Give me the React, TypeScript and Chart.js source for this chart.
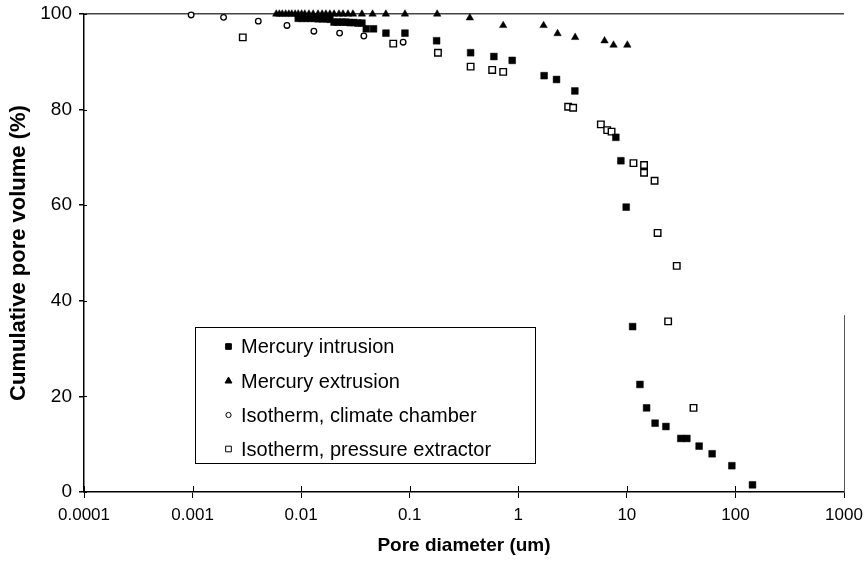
import React, { useEffect, useRef } from 'react';
import { Chart, registerables } from 'chart.js';

Chart.register(...registerables);

// ---------- data ----------
const xTickValues = [0.0001, 0.001, 0.01, 0.1, 1, 10, 100, 1000];
const xTickLabels = ['0.0001', '0.001', '0.01', '0.1', '1', '10', '100', '1000'];
const yTickValues = [0, 20, 40, 60, 80, 100];

const seriesNames = [
  'Mercury intrusion',
  'Mercury extrusion',
  'Isotherm, climate chamber',
  'Isotherm, pressure extractor',
];

const intrusionX = [
  0.0094, 0.0102, 0.0111, 0.0121, 0.0131, 0.0143, 0.0156, 0.0169, 0.0184,
  0.0201, 0.0218, 0.0238, 0.0259, 0.0281, 0.0306, 0.0333, 0.0363,
  0.0398, 0.0464, 0.0604, 0.0904, 0.177, 0.364, 0.596, 0.879, 1.73, 2.25, 3.32,
  7.92, 8.81, 9.86, 11.3, 13.2, 15.2, 18.2, 22.9, 31.4, 35.7, 46.3, 61.0, 92.7, 143.6,
];
const intrusionY = [
  99.1, 99.1, 99.1, 99.1, 99.1, 99.0, 99.0, 99.0, 98.9,
  98.3, 98.3, 98.3, 98.3, 98.2, 98.2, 98.1, 98.1,
  96.9, 96.9, 96.0, 96.0, 94.4, 91.9, 91.1, 90.3, 87.1, 86.3, 83.9,
  74.2, 69.3, 59.6, 34.6, 22.5, 17.6, 14.4, 13.7, 11.2, 11.2, 9.6, 8.0, 5.5, 1.5,
];

const extrusionX = [
  0.0059, 0.0063, 0.0067, 0.0072, 0.0077, 0.0082, 0.0088, 0.0094, 0.0101,
  0.0108, 0.0118, 0.0129, 0.0143, 0.0156, 0.0169, 0.0184, 0.0201, 0.0223, 0.0243,
  0.027, 0.030, 0.0363, 0.0455, 0.0603, 0.0904, 0.179, 0.358, 0.726, 1.71, 2.30,
  3.34, 6.23, 7.54, 10.1,
];
const extrusionY = [
  100, 100, 100, 100, 100, 100, 100, 100, 100,
  100, 100, 100, 100, 100, 100, 100, 100, 100, 100,
  100, 100, 100, 100, 100, 100, 100, 99.2, 97.6, 97.6, 95.9,
  95.1, 94.4, 93.5, 93.5,
];

const chamberX = [0.00097, 0.00193, 0.00403, 0.0074, 0.0131, 0.0226, 0.0378, 0.087];
const chamberY = [99.8, 99.3, 98.5, 97.6, 96.4, 96.0, 95.4, 94.1];

const extractorX = [
  0.0029, 0.0705, 0.182, 0.364, 0.575, 0.726, 2.88, 3.2, 5.76, 6.59, 7.23,
  11.5, 14.4, 14.4, 18.0, 19.2, 28.8, 24.0, 41.1,
];
const extractorY = [
  95.1, 93.8, 91.9, 89.0, 88.3, 87.9, 80.6, 80.4, 76.9, 75.7, 75.4,
  68.8, 68.4, 66.8, 65.1, 54.2, 47.3, 35.7, 17.6,
];

const rightFrameFrom = 37; // value where the partial right frame line starts

const zip = (xs: number[], ys: number[]) => xs.map((x, i) => ({ x, y: ys[i] }));

const FONT = "'Liberation Sans', Arial, Helvetica, sans-serif";

function drawMarker(
  ctx: CanvasRenderingContext2D,
  style: string,
  fill: string,
  stroke: string,
  lw: number,
  x: number,
  y: number,
  r: number,
) {
  ctx.beginPath();
  if (style === 'rect') {
    const s = Math.SQRT1_2 * r;
    ctx.rect(x - s, y - s, 2 * s, 2 * s);
  } else if (style === 'triangle') {
    ctx.moveTo(x, y - r);
    ctx.lineTo(x + r * 0.866, y + r * 0.5);
    ctx.lineTo(x - r * 0.866, y + r * 0.5);
    ctx.closePath();
  } else {
    ctx.arc(x, y, r, 0, Math.PI * 2);
  }
  ctx.fillStyle = fill;
  ctx.fill();
  ctx.lineWidth = lw;
  ctx.strokeStyle = stroke;
  ctx.stroke();
}

const framePlugin = {
  id: 'frameAndLegend',
  afterDraw(chart: any) {
    const ctx: CanvasRenderingContext2D = chart.ctx;
    const { left, right, bottom } = chart.chartArea;
    const xs = chart.scales.x;
    const ys = chart.scales.y;
    ctx.save();
    // inner halves of the crossing tick marks
    ctx.strokeStyle = '#000';
    ctx.lineWidth = 1;
    yTickValues.forEach((v) => {
      const py = Math.round(ys.getPixelForValue(v)) + 0.5;
      ctx.beginPath();
      ctx.moveTo(left, py);
      ctx.lineTo(left + 3, py);
      ctx.stroke();
    });
    xTickValues.forEach((v) => {
      const px = Math.round(xs.getPixelForValue(v)) + 0.5;
      ctx.beginPath();
      ctx.moveTo(px, bottom);
      ctx.lineTo(px, bottom - 6);
      ctx.stroke();
    });
    // partial right frame line
    ctx.strokeStyle = '#555';
    ctx.lineWidth = 1;
    ctx.beginPath();
    ctx.moveTo(right + 0.5, ys.getPixelForValue(rightFrameFrom));
    ctx.lineTo(right + 0.5, bottom);
    ctx.stroke();

    // legend box
    const box = { l: 195, t: 327, r: 535, b: 463 };
    ctx.fillStyle = '#fff';
    ctx.fillRect(box.l, box.t, box.r - box.l, box.b - box.t);
    ctx.strokeStyle = '#000';
    ctx.lineWidth = 1;
    ctx.strokeRect(box.l + 0.5, box.t + 0.5, box.r - box.l, box.b - box.t);
    const rowY = [346.5, 381, 415, 449];
    ctx.font = `20px ${FONT}`;
    ctx.textBaseline = 'middle';
    ctx.textAlign = 'left';
    chart.data.datasets.forEach((ds: any, i: number) => {
      const y = rowY[i];
      drawMarker(ctx, ds.pointStyle, ds.backgroundColor, ds.borderColor, 1, 228.5, y, ds.pointStyle === 'circle' ? 2.6 : 4);
      ctx.fillStyle = '#000';
      ctx.fillText(ds.label, 241, y + 1);
    });
    ctx.restore();
  },
};

export default function App() {
  const ref = useRef<HTMLCanvasElement | null>(null);

  useEffect(() => {
    if (!ref.current) return;
    const chart = new Chart(ref.current, {
      type: 'scatter',
      data: {
        datasets: [
          {
            label: seriesNames[0],
            data: zip(intrusionX, intrusionY),
            pointStyle: 'rect',
            pointRadius: 4.8,
            backgroundColor: '#000',
            borderColor: '#000',
            borderWidth: 0.5,
            clip: false,
          },
          {
            label: seriesNames[1],
            data: zip(extrusionX, extrusionY),
            pointStyle: 'triangle',
            pointRadius: 4.3,
            backgroundColor: '#000',
            borderColor: '#000',
            borderWidth: 0.5,
            clip: false,
          },
          {
            label: seriesNames[2],
            data: zip(chamberX, chamberY),
            pointStyle: 'circle',
            pointRadius: 2.8,
            backgroundColor: '#fff',
            borderColor: '#000',
            borderWidth: 1.3,
            clip: false,
          },
          {
            label: seriesNames[3],
            data: zip(extractorX, extractorY),
            pointStyle: 'rect',
            pointRadius: 4.6,
            backgroundColor: '#fff',
            borderColor: '#000',
            borderWidth: 1.4,
            clip: false,
          },
        ] as any,
      },
      options: {
        animation: false,
        responsive: false,
        devicePixelRatio: 1,
        layout: { padding: { left: 0, top: 14, right: 21, bottom: 0 } },
        plugins: {
          legend: { display: false },
          tooltip: { enabled: false },
        },
        scales: {
          x: {
            type: 'logarithmic',
            min: 0.0001,
            max: 1000,
            afterBuildTicks: (scale: any) => {
              scale.ticks = xTickValues.map((v) => ({ value: v }));
            },
            afterFit: (scale: any) => {
              scale.height = 73;
              scale.paddingLeft = 0;
              scale.paddingRight = 0;
            },
            border: { display: true, color: '#000', width: 1.5 },
            grid: {
              display: true,
              drawOnChartArea: false,
              drawTicks: true,
              tickLength: 6,
              tickColor: '#000',
              lineWidth: 1,
            },
            ticks: {
              autoSkip: false,
              maxRotation: 0,
              padding: 7,
              color: '#000',
              font: { family: FONT, size: 17 },
              callback: (_v: any, i: number) => xTickLabels[i],
            },
            title: {
              display: true,
              text: 'Pore diameter (um)',
              color: '#000',
              font: { family: FONT, size: 19, weight: 'bold' },
              padding: { top: 0, bottom: 8 },
            },
          },
          y: {
            type: 'linear',
            min: 0,
            max: 100,
            afterBuildTicks: (scale: any) => {
              scale.ticks = yTickValues.map((v) => ({ value: v }));
            },
            afterFit: (scale: any) => {
              scale.width = 84;
              scale.paddingTop = 0;
              scale.paddingBottom = 0;
            },
            border: { display: true, color: '#000', width: 1.5 },
            grid: {
              display: true,
              drawOnChartArea: true,
              drawTicks: true,
              tickLength: 5,
              tickColor: '#000',
              lineWidth: 1.5,
              color: (c: any) => (c.tick && c.tick.value === 100 ? '#444' : 'rgba(0,0,0,0)'),
            },
            ticks: {
              padding: 7,
              color: '#000',
              font: { family: FONT, size: 19 },
              callback: (v: any) => String(v),
            },
            title: {
              display: true,
              text: 'Cumulative pore volume (%)',
              color: '#000',
              font: { family: FONT, size: 22, weight: 'bold' },
              padding: { top: 6, bottom: 0 },
            },
          },
        },
      } as any,
      plugins: [framePlugin],
    });
    return () => chart.destroy();
  }, []);

  return (
    <div style={{ position: 'absolute', left: 0, top: 0, width: 865, height: 565, background: '#fff' }}>
      <canvas ref={ref} width={865} height={565} style={{ display: 'block', width: 865, height: 565 }} />
    </div>
  );
}
